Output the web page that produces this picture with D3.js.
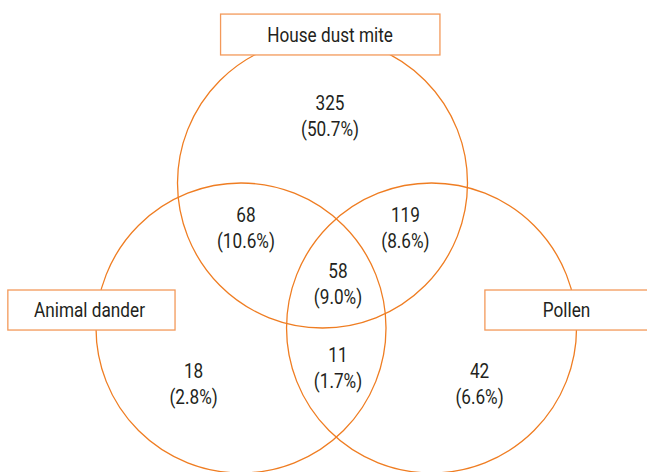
<!DOCTYPE html>
<html>
<head>
<meta charset="utf-8">
<script src="https://cdn.jsdelivr.net/npm/d3@7"></script>
<style>
  body { margin: 0; background: #fff; }
  text { font-family: 'Roboto', sans-serif; fill: #231f20; }
</style>
</head>
<body>
<svg id="venn"></svg>
<script>
const setNames = ['House dust mite', 'Animal dander', 'Pollen'];
const regionCounts = [325, 68, 119, 58, 18, 11, 42];
const regionPercents = ['50.7%', '10.6%', '8.6%', '9.0%', '2.8%', '1.7%', '6.6%'];
const regionSets = [['HDM'], ['HDM', 'AD'], ['HDM', 'P'], ['HDM', 'AD', 'P'], ['AD'], ['AD', 'P'], ['P']];

const w = 647, h = 472;
const svg = d3.select('#venn').attr('width', w).attr('height', h);

// layout space in circle units (radius = 1)
const x = d3.scaleLinear().domain([0, 1]).range([0, 145]);
const y = d3.scaleLinear().domain([0, 1]).range([0, 145]);
const ox = 322.5, oy = 183;
const squeeze = 0.86; // condensed look

const circles = [
  {cx: 0, cy: 0},
  {cx: -0.562, cy: 1.0},
  {cx: 0.752, cy: 1.0}
];
// label box per set, in layout units relative to the top circle centre
const boxes = [
  {x0: -0.703, y0: -1.165, x1: 0.81, y1: -0.883, tx: 0.052},
  {x0: -2.17, y0: 0.738, x1: -1.017, y1: 1.014, tx: -1.607},
  {x0: 1.12, y0: 0.738, x1: 2.32, y1: 1.014, tx: 1.683}
];
const regionPos = [
  [0.052, -0.552], [-0.528, 0.221], [0.572, 0.221], [0.107, 0.607],
  [-0.889, 1.296], [0.107, 1.186], [1.083, 1.296]
];

const orange = '#ef7d22';
const g = svg.append('g').attr('transform', `translate(${ox}, ${oy})`);

g.selectAll('circle').data(circles)
  .enter().append('circle')
    .attr('cx', d => x(d.cx))
    .attr('cy', d => y(d.cy))
    .attr('r', x(1))
    .attr('fill', 'none')
    .attr('stroke', orange)
    .attr('stroke-width', 1.3);

const labG = g.selectAll('g.lab').data(setNames)
  .enter().append('g').attr('class', 'lab');
labG.append('rect')
  .attr('x', (d, i) => x(boxes[i].x0))
  .attr('y', (d, i) => y(boxes[i].y0))
  .attr('width', (d, i) => x(boxes[i].x1) - x(boxes[i].x0))
  .attr('height', (d, i) => y(boxes[i].y1) - y(boxes[i].y0))
  .attr('fill', '#fff')
  .attr('stroke', '#f3995a')
  .attr('stroke-width', 1.3);
labG.append('text')
  .attr('transform', (d, i) => `translate(${x(boxes[i].tx)}, ${y((boxes[i].y0 + boxes[i].y1) / 2)}) scale(${squeeze}, 1)`)
  .attr('dy', '0.36em')
  .attr('text-anchor', 'middle')
  .attr('font-size', 20)
  .text(d => d);

const reg = g.selectAll('g.region').data(regionCounts)
  .enter().append('g').attr('class', 'region')
    .attr('data-sets', (d, i) => regionSets[i].join(','));
reg.append('text')
  .attr('transform', (d, i) => `translate(${x(regionPos[i][0])}, ${y(regionPos[i][1])}) scale(${squeeze}, 1)`)
  .attr('dy', '0.36em')
  .attr('text-anchor', 'middle')
  .attr('font-size', 20)
  .text(d => d);
reg.append('text')
  .attr('transform', (d, i) => `translate(${x(regionPos[i][0])}, ${y(regionPos[i][1]) + 26}) scale(${squeeze}, 1)`)
  .attr('dy', '0.36em')
  .attr('text-anchor', 'middle')
  .attr('font-size', 20)
  .text((d, i) => '(' + regionPercents[i] + ')');
</script>
</body>
</html>
